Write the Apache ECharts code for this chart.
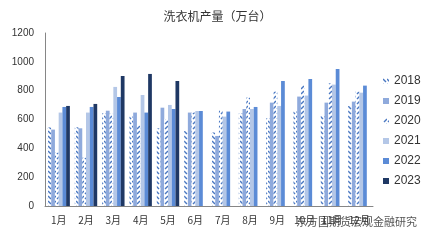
<!DOCTYPE html>
<html><head><meta charset="utf-8">
<script src="https://cdn.jsdelivr.net/npm/echarts@6/dist/echarts.min.js"></script>
<style>html,body{margin:0;padding:0;background:#fff}#c{width:435px;height:242px}</style>
</head><body><div id="c"></div>
<script>
const categories = ['1月','2月','3月','4月','5月','6月','7月','8月','9月','10月','11月','12月'];
const years = ['2018','2019','2020','2021','2022','2023'];
const s2018 = [545, 546, 643, 620, 539, 520, 510, 643, 608, 655, 625, 694];
const s2019 = [530, 539, 661, 648, 682, 648, 486, 673, 717, 759, 717, 724];
const s2020 = [370, 335, 640, 560, 602, 648, 666, 752, 793, 840, 851, 793];
const s2021 = [648, 648, 826, 770, 701, 659, 620, 673, 694, 766, 842, 786];
const s2022 = [687, 687, 756, 648, 673, 659, 655, 687, 867, 881, 951, 835];
const s2023 = [694, 708, 902, 916, 867, null, null, null, null, null, null, null];
const yTicks = [0, 200, 400, 600, 800, 1000, 1200];

function pattern(dir) {
  const c = document.createElement('canvas');
  c.width = 4; c.height = 5;
  const g = c.getContext('2d');
  g.fillStyle = '#fff'; g.fillRect(0, 0, 4, 5);
  g.strokeStyle = '#4A78C2'; g.lineWidth = 1.4;
  g.beginPath();
  if (dir > 0) { g.moveTo(0, 1); g.lineTo(3, 4); }
  else { g.moveTo(4, 1); g.lineTo(1, 4); }
  g.stroke();
  return { image: c, repeat: 'repeat' };
}

const colors = [pattern(1), '#8FAADC', pattern(-1), '#B4C7E7', '#5B8BD6', '#1F3864'];
const data = [s2018, s2019, s2020, s2021, s2022, s2023];

const chart = echarts.init(document.getElementById('c'));
chart.setOption({
  animation: false,
  title: { text: '洗衣机产量（万台）', left: 'center', top: 5,
    textStyle: { fontSize: 12, fontWeight: 'normal', color: '#333', fontFamily: 'Noto Sans CJK SC' } },
  legend: { orient: 'vertical', left: 378, top: 70, itemGap: 8, itemWidth: 6, itemHeight: 6,
    icon: 'rect', data: years,
    textStyle: { fontSize: 12, color: '#333', fontFamily: 'Liberation Sans' } },
  grid: { left: 45, right: 62, top: 33, bottom: 36 },
  xAxis: { type: 'category', data: categories,
    axisLine: { lineStyle: { color: '#868686' } }, axisTick: { show: false },
    axisLabel: { fontSize: 10, color: '#333', margin: 9, interval: 0, fontFamily: 'Noto Sans CJK SC' } },
  yAxis: { type: 'value', min: yTicks[0], max: yTicks[yTicks.length - 1], interval: 200,
    axisLine: { show: true, lineStyle: { color: '#868686' } }, axisTick: { show: false },
    splitLine: { show: false },
    axisLabel: { fontSize: 10, color: '#333', margin: 11, fontFamily: 'Liberation Sans',
      formatter: v => String(v) } },
  graphic: [{ type: 'text', left: 296, top: 216,
    style: { text: '东方国期货宏观金融研究', fontSize: 11, fill: '#555', fontFamily: 'Noto Sans CJK SC' } }],
  series: years.map((y, i) => ({
    name: y, type: 'bar', data: data[i], barGap: '0%', barCategoryGap: '18%',
    itemStyle: { color: colors[i] }
  }))
});
</script></body></html>
